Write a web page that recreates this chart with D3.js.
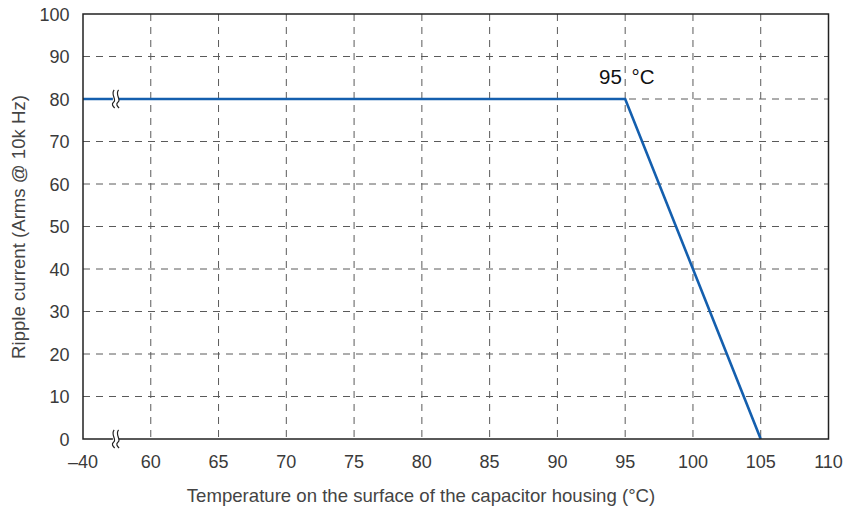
<!DOCTYPE html>
<html><head><meta charset="utf-8">
<script src="https://cdn.jsdelivr.net/npm/d3@7"></script>
<style>body{margin:0;background:#fff}svg{display:block}text{font-family:"Liberation Sans",Arial,sans-serif}</style>
</head><body><svg id="c" width="843" height="511"></svg>
<script>
const xTicks = [-40, 60, 65, 70, 75, 80, 85, 90, 95, 100, 105, 110];
const xTickLabels = ["\u201340", "60", "65", "70", "75", "80", "85", "90", "95", "100", "105", "110"];
const yTicks = [0, 10, 20, 30, 40, 50, 60, 70, 80, 90, 100];
const curveTemp = [-40, 95, 105];
const curveCurrent = [80, 80, 0];
const breakY = [80, 0];
const annotation = "95 \u00B0C";
const xTitle = "Temperature on the surface of the capacitor housing (\u00B0C)";
const yTitle = "Ripple current (Arms @ 10k Hz)";

const L = 83, R = 828.5, T = 14, B = 439;
const svg = d3.select("#c");
const step = (R - L) / 11;
const x = d3.scaleLinear().domain([-40, 60, 110]).range([L, L + step, R]);
const y = d3.scaleLinear().domain([0, 100]).range([B, T]);

// grid
const g = svg.append("g").attr("stroke", "#5a5a5a").attr("stroke-width", 1).attr("stroke-dasharray", "7,6");
xTicks.filter(v => v > -40 && v < 110).forEach(v => {
  g.append("line").attr("x1", x(v)).attr("x2", x(v)).attr("y1", T).attr("y2", B);
});
yTicks.filter(v => v > 0 && v < 100).forEach(v => {
  g.append("line").attr("x1", L).attr("x2", R).attr("y1", y(v)).attr("y2", y(v));
});

// curve
const pts = curveTemp.map((t, i) => [x(t), y(curveCurrent[i])]);
svg.append("path").attr("d", d3.line()(pts)).attr("fill", "none")
  .attr("stroke", "#145fae").attr("stroke-width", 2.6).attr("stroke-linejoin", "miter");

// frame
svg.append("rect").attr("x", L).attr("y", T).attr("width", R - L).attr("height", B - T)
  .attr("fill", "none").attr("stroke", "#222").attr("stroke-width", 1.5);

// break marks
const bx = (x(-40) + x(60)) / 2 - 1;
breakY.forEach(v => {
  const cy = y(v);
  svg.append("rect").attr("x", bx - 3).attr("y", cy - 3).attr("width", 6).attr("height", 6).attr("fill", "#fff");
  [-2.2, 2.2].forEach(dx => {
    const cx = bx + dx;
    svg.append("path")
      .attr("d", `M${cx + 0.5},${cy - 9} C${cx - 3.5},${cy - 5} ${cx + 3.5},${cy + 1} ${cx},${cy + 3} C${cx - 2.5},${cy + 5} ${cx - 1},${cy + 7} ${cx + 1},${cy + 9}`)
      .attr("fill", "none").attr("stroke", "#222").attr("stroke-width", 1.2);
  });
});

// tick labels
svg.append("g").selectAll("text").data(xTicks).join("text")
  .attr("x", d => x(d)).attr("y", 467.5).attr("text-anchor", "middle")
  .attr("font-size", 18).attr("fill", "#3a3a3a").text((d, i) => xTickLabels[i]);
svg.append("g").selectAll("text").data(yTicks).join("text")
  .attr("x", 69.5).attr("y", d => y(d) + 6.5).attr("text-anchor", "end")
  .attr("font-size", 18).attr("fill", "#3a3a3a").text(d => d);

// titles
svg.append("text").attr("x", 421).attr("y", 502).attr("text-anchor", "middle")
  .attr("font-size", 18.6).attr("fill", "#444").text(xTitle);
svg.append("text").attr("transform", `translate(25,227) rotate(-90)`).attr("text-anchor", "middle")
  .attr("font-size", 18.6).attr("fill", "#444").text(yTitle);

// annotation
svg.append("text").attr("x", 599).attr("y", 84).attr("font-size", 20.5)
  .attr("word-spacing", 4).attr("fill", "#111").text(annotation);
</script></body></html>
